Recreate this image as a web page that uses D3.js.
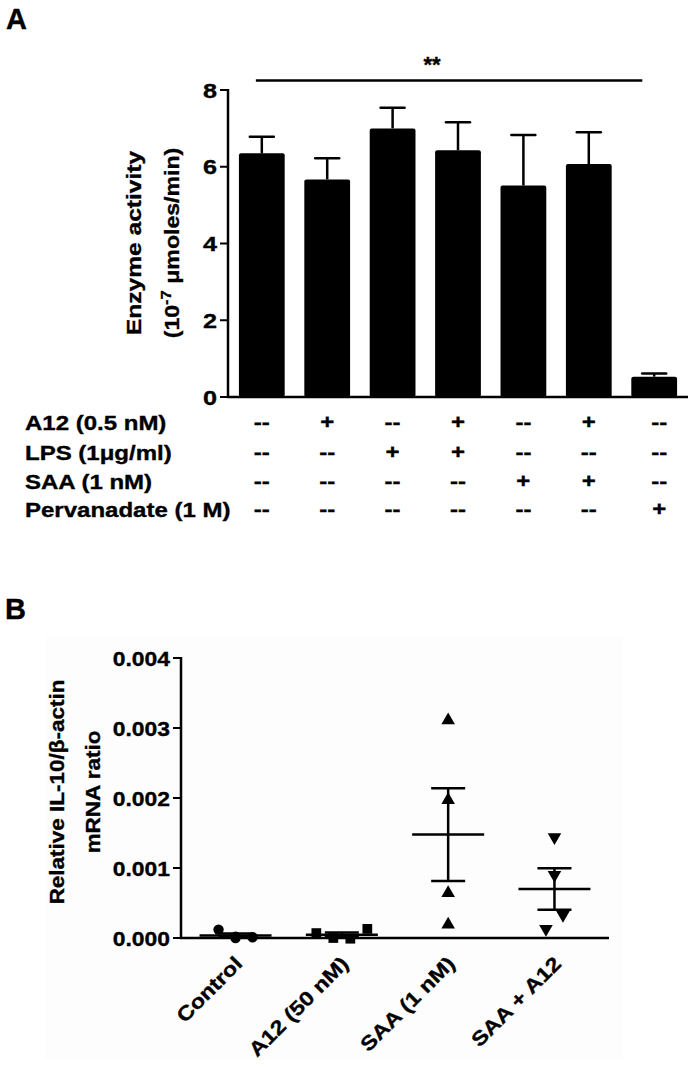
<!DOCTYPE html>
<html>
<head>
<meta charset="utf-8">
<script src="https://cdn.jsdelivr.net/npm/d3@7"></script>
<style>
  html, body { margin: 0; padding: 0; background: #fff; }
  svg text { font-family: "Liberation Sans", Arial, Helvetica, sans-serif; font-weight: bold; fill: #000; stroke: #000; stroke-width: 0.35; }
</style>
</head>
<body>
<svg id="chart" width="696" height="1067"></svg>
<script>
// ---------------- DATA: Panel A ----------------
const groupsA = ["G1", "G2", "G3", "G4", "G5", "G6", "G7"];
const meansA = [6.35, 5.67, 7.00, 6.43, 5.51, 6.07, 0.53];
const errorsA = [0.43, 0.55, 0.54, 0.73, 1.32, 0.83, 0.08];
const ticksA = [0, 2, 4, 6, 8];
const rowLabelsA = ["A12 (0.5 nM)", "LPS (1\u03BCg/ml)", "SAA (1 nM)", "Pervanadate (1 M)"];
const rowA12 = ["--", "+", "--", "+", "--", "+", "--"];
const rowLPS = ["--", "--", "+", "+", "--", "--", "--"];
const rowSAA = ["--", "--", "--", "--", "+", "+", "--"];
const rowPerv = ["--", "--", "--", "--", "--", "--", "+"];
const sigLabel = "**";

// ---------------- DATA: Panel B ----------------
const groupsB = ["Control", "A12 (50 nM)", "SAA (1 nM)", "SAA + A12"];
const valControl = [0.00012, 0.00000, 0.00001, 0.00002];
const valA12 = [0.00007, 0.00000, -0.00001, 0.00013];
const valSAA = [0.00311, 0.00197, 0.00064, 0.00019];
const valSAAA12 = [0.00144, 0.00090, 0.00033, 0.00013];
// horizontal jitter slots (in units of marker spacing)
const slotControl = [-1, 0, 1, 0];
const slotA12 = [-1.5, -0.5, 0.5, 1.5];
const slotSAA = [0, 0, 0, 0];
const slotSAAA12 = [0, 0, 0.5, -0.5];
const ticksB = [0, 0.001, 0.002, 0.003, 0.004];

const svg = d3.select("#chart");

function stretch(sel, f) {
  sel.each(function () {
    const len = this.getComputedTextLength();
    d3.select(this).attr("textLength", len * f).attr("lengthAdjust", "spacingAndGlyphs");
  });
  return sel;
}

// ================= PANEL A =================
const xA = d3.scaleBand().domain(groupsA).range([228, 688]).paddingInner(0.3).paddingOuter(0.167);
const yA = d3.scaleLinear().domain([0, 8]).range([397, 90]);
const gA = svg.append("g");

svg.append("text").attr("x", 6).attr("y", 29).attr("font-size", 29).text("A");

// bars
gA.selectAll("rect.bar").data(groupsA).join("rect")
  .attr("x", d => xA(d)).attr("width", xA.bandwidth())
  .attr("y", (d, i) => yA(meansA[i])).attr("height", (d, i) => yA(0) - yA(meansA[i]))
  .attr("rx", 2).attr("fill", "#000");

// error bars (upper only)
const capA = 12;
groupsA.forEach((d, i) => {
  const cx = xA(d) + xA.bandwidth() / 2;
  gA.append("line").attr("x1", cx).attr("x2", cx)
    .attr("y1", yA(meansA[i])).attr("y2", yA(meansA[i] + errorsA[i]))
    .attr("stroke", "#000").attr("stroke-width", 2.5);
  gA.append("line").attr("x1", cx - capA).attr("x2", cx + capA)
    .attr("y1", yA(meansA[i] + errorsA[i])).attr("y2", yA(meansA[i] + errorsA[i]))
    .attr("stroke", "#000").attr("stroke-width", 2.5).attr("stroke-linecap", "round");
});

// y axis
gA.append("line").attr("x1", 228).attr("x2", 228).attr("y1", yA(8) - 1).attr("y2", yA(0))
  .attr("stroke", "#000").attr("stroke-width", 2.5);
ticksA.forEach(t => {
  gA.append("line").attr("x1", 220).attr("x2", 228).attr("y1", yA(t)).attr("y2", yA(t))
    .attr("stroke", "#000").attr("stroke-width", 2);
});
stretch(gA.selectAll("text.ytA").data(ticksA).join("text")
  .attr("class", "ytA")
  .attr("x", 217).attr("y", d => yA(d) + 7.5).attr("text-anchor", "end")
  .attr("font-size", 21).text(d => d), 1.2);
// x axis
gA.append("line").attr("x1", 227).attr("x2", 688).attr("y1", yA(0)).attr("y2", yA(0))
  .attr("stroke", "#000").attr("stroke-width", 2.5);

// y label
const ylA = gA.append("g").attr("transform", "translate(141,243) rotate(-90)");
stretch(ylA.append("text").attr("text-anchor", "middle").attr("font-size", 21).text("Enzyme activity"), 1.17);
const l2 = ylA.append("text").attr("y", 38).attr("text-anchor", "middle").attr("font-size", 21);
l2.append("tspan").text("(10");
l2.append("tspan").attr("dy", -8).attr("font-size", 15).text("-7");
l2.append("tspan").attr("dy", 8).text(" \u03BCmoles/min)");
stretch(l2, 1.1);

// significance line
const sigX1 = xA(groupsA[0]) + xA.bandwidth() * 0.37;
const sigX2 = xA(groupsA[6]) + xA.bandwidth() * 0.24;
gA.append("line").attr("x1", sigX1).attr("x2", sigX2).attr("y1", yA(8.25)).attr("y2", yA(8.25))
  .attr("stroke", "#000").attr("stroke-width", 2.5);
gA.append("text").attr("x", (sigX1 + sigX2) / 2 - 17).attr("y", 72).attr("text-anchor", "middle")
  .attr("font-size", 22).text(sigLabel);

// treatment table
const rowsA = [rowA12, rowLPS, rowSAA, rowPerv];
const rowBase = [430, 460, 489, 517];
rowsA.forEach((row, r) => {
  stretch(gA.append("text").attr("x", 25).attr("y", rowBase[r]).attr("font-size", 20).text(rowLabelsA[r]), 1.2);
  row.forEach((s, i) => {
    const cx = xA(groupsA[i]) + xA.bandwidth() / 2 + (i === 6 ? 5 : 0);
    stretch(gA.append("text").attr("x", cx).attr("y", rowBase[r] - 1).attr("text-anchor", "middle")
      .attr("font-size", 20).text(s), 1.2);
  });
});

// ================= PANEL B =================
svg.append("rect").attr("x", 45).attr("y", 637).attr("width", 578).attr("height", 423).attr("fill", "#fdfdfd");
svg.append("text").attr("x", 5).attr("y", 619).attr("font-size", 29).text("B");

const xB = d3.scalePoint().domain(groupsB).range([181, 609]).padding(0.513);
const yB = d3.scaleLinear().domain([0, 0.004]).range([938, 658]);
const gB = svg.append("g");

// axes
gB.append("line").attr("x1", 181).attr("x2", 181).attr("y1", yB(0.004) - 1).attr("y2", yB(0))
  .attr("stroke", "#000").attr("stroke-width", 2.5);
ticksB.forEach(t => {
  gB.append("line").attr("x1", 173).attr("x2", 181).attr("y1", yB(t)).attr("y2", yB(t))
    .attr("stroke", "#000").attr("stroke-width", 2);
});
stretch(gB.selectAll("text.ytB").data(ticksB).join("text")
  .attr("class", "ytB")
  .attr("x", 170).attr("y", d => yB(d) + 7.5).attr("text-anchor", "end")
  .attr("font-size", 21).text(d => d3.format(".3f")(d)), 1.09);
gB.append("line").attr("x1", 180).attr("x2", 609).attr("y1", yB(0)).attr("y2", yB(0))
  .attr("stroke", "#000").attr("stroke-width", 2.5);

// y label
const ylB = gB.append("g").attr("transform", "translate(64,792) rotate(-90)");
const lb1 = ylB.append("text").attr("text-anchor", "middle").attr("font-size", 21);
lb1.text("Relative IL-10/\u03B2-actin");
stretch(lb1, 1.07);
stretch(ylB.append("text").attr("y", 36).attr("text-anchor", "middle").attr("font-size", 21).text("mRNA ratio"), 1.07);

// category labels
groupsB.forEach(g => {
  stretch(gB.append("text")
    .attr("transform", `translate(${xB(g) + 8},${yB(0) + 27}) rotate(-45)`)
    .attr("text-anchor", "end").attr("font-size", 20).text(g), 1.17);
});

// scatter points
const valuesB = [valControl, valA12, valSAA, valSAAA12];
const slotsB = [slotControl, slotA12, slotSAA, slotSAAA12];
const shapesB = [d3.symbolCircle, d3.symbolSquare, d3.symbolTriangle, d3.symbolTriangle];
const sizesB = [85, 95, 80, 80];
const slotW = 17;

valuesB.forEach((vals, gi) => {
  const cx = xB(groupsB[gi]);
  const m = d3.mean(vals);
  const sem = d3.deviation(vals) / Math.sqrt(vals.length);
  // mean line
  gB.append("line").attr("x1", cx - 36).attr("x2", cx + 36).attr("y1", yB(m)).attr("y2", yB(m))
    .attr("stroke", "#000").attr("stroke-width", 2.5);
  // SEM
  gB.append("line").attr("x1", cx).attr("x2", cx).attr("y1", yB(m - sem)).attr("y2", yB(m + sem))
    .attr("stroke", "#000").attr("stroke-width", 2.5);
  [m - sem, m + sem].forEach(v => {
    gB.append("line").attr("x1", cx - 17).attr("x2", cx + 17).attr("y1", yB(v)).attr("y2", yB(v))
      .attr("stroke", "#000").attr("stroke-width", 2.5);
  });
  const sym = d3.symbol().type(shapesB[gi]).size(sizesB[gi]);
  gB.selectAll(null).data(vals).join("path")
    .attr("d", sym)
    .attr("transform", (v, i) => `translate(${cx + slotsB[gi][i] * slotW},${yB(v)})${gi === 3 ? " rotate(180)" : ""}`)
    .attr("fill", "#000");
});
</script>
</body>
</html>
